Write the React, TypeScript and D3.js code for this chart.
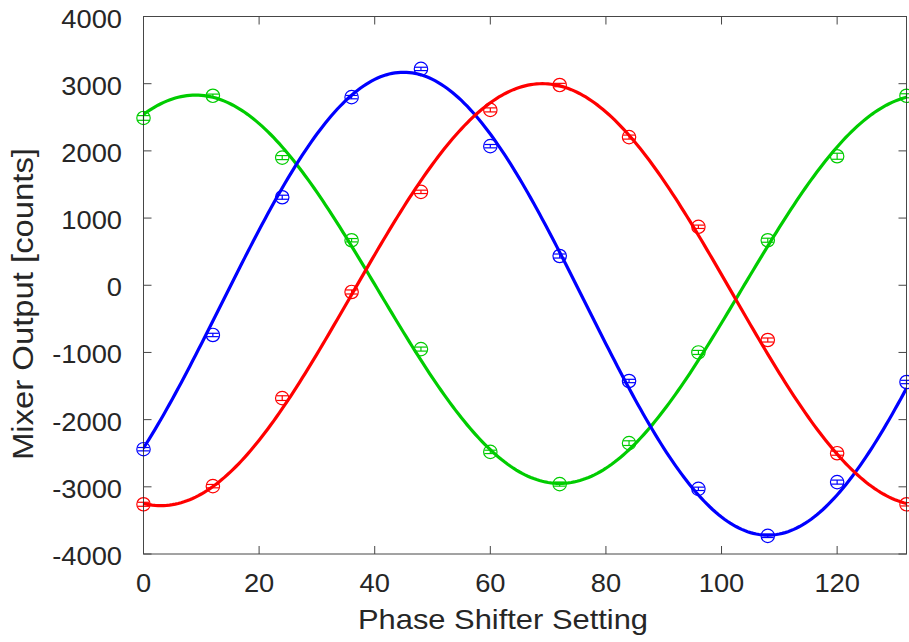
import React from "react";
import * as d3 from "d3";

const xs = [0, 12, 24, 36, 48, 60, 72, 84, 96, 108, 120, 132];
const greenY = [2490, 2820, 1900, 670, -950, -2480, -2960, -2350, -1000, 670, 1920, 2820];
const blueY = [-2440, -740, 1310, 2800, 3220, 2070, 435, -1425, -3030, -3730, -2930, -1440];
const redY = [-3260, -2990, -1680, -100, 1390, 2610, 2980, 2205, 870, -815, -2500, -3260];
const greenErr = [35, 25, 30, 25, 30, 25, 30, 35, 30, 30, 45, 30];
const blueErr = [25, 25, 30, 25, 25, 25, 30, 25, 25, 25, 30, 25];
const redErr = [30, 25, 35, 30, 25, 30, 25, 30, 25, 30, 30, 25];
// sinusoid fit parameters: [offset, amplitude, x of maximum, period]
const greenFit = [-60, 2890, 9, 126];
const blueFit = [-275, 3445, 45, 126];
const redFit = [-140, 3140, 69, 132];

const xTicks = [0, 20, 40, 60, 80, 100, 120];
const yTicks = [-4000, -3000, -2000, -1000, 0, 1000, 2000, 3000, 4000];

const W = 909, H = 642;
const L = 143.5, R = 906.5, T = 16.5, B = 554;

export default function App() {
  const x = d3.scaleLinear().domain([0, 132]).range([L, R]);
  const y = d3.scaleLinear().domain([-4000, 4000]).range([B, T]);
  const series = [
    { ys: greenY, err: greenErr, fit: greenFit, color: "#00cc00" },
    { ys: blueY, err: blueErr, fit: blueFit, color: "#0000ff" },
    { ys: redY, err: redErr, fit: redFit, color: "#ff0000" },
  ];
  const grid = d3.range(0, 132.01, 0.5);
  const line = d3.line<[number, number]>().x(d => x(d[0])).y(d => y(d[1]));
  const font = "'Liberation Sans', Arial, Helvetica, sans-serif";
  const axisColor = "#262626";
  const tl = 8;
  return (
    <svg width={W} height={H} style={{ position: "absolute", left: 0, top: 0, background: "#fff" }}>
      <defs>
        <clipPath id="clip"><rect x={L} y={T} width={R - L} height={B - T} /></clipPath>
      </defs>
      <rect x={0} y={0} width={W} height={H} fill="#fff" />
      <g clipPath="url(#clip)">
        {series.map((s, i) => {
          const [off, A, xm, P] = s.fit;
          const pts: [number, number][] = grid.map(g => [g, off + A * Math.cos((2 * Math.PI * (g - xm)) / P)]);
          return <path key={i} d={line(pts) || ""} fill="none" stroke={s.color} strokeWidth={3.2} />;
        })}
      </g>
      {series.map((s, i) => (
        <g key={"p" + i} stroke={s.color} fill="none" strokeWidth={1.2}>
          {xs.map((xv, j) => {
            const cx = x(xv), cy = y(s.ys[j]);
            const e1 = y(s.ys[j] + s.err[j]), e2 = y(s.ys[j] - s.err[j]);
            return (
              <g key={j}>
                <circle cx={cx} cy={cy} r={6.7} />
                <line x1={cx} x2={cx} y1={e1} y2={e2} />
                <line x1={cx - 6} x2={cx + 6} y1={e1} y2={e1} />
                <line x1={cx - 6} x2={cx + 6} y1={e2} y2={e2} />
              </g>
            );
          })}
        </g>
      ))}
      <g stroke={axisColor} strokeWidth={1} fill="none" opacity={0.85}>
        <rect x={L} y={T} width={R - L} height={B - T} />
        {xTicks.map(t => (
          <g key={"xt" + t}>
            <line x1={x(t)} x2={x(t)} y1={B} y2={B - tl} />
            <line x1={x(t)} x2={x(t)} y1={T} y2={T + tl} />
          </g>
        ))}
        {yTicks.map(t => (
          <g key={"yt" + t}>
            <line x1={L} x2={L + tl} y1={y(t)} y2={y(t)} />
            <line x1={R} x2={R - tl} y1={y(t)} y2={y(t)} />
          </g>
        ))}
      </g>
      <g fill={axisColor} fontFamily={font} fontSize={26}>
        {xTicks.map(t => (
          <text key={"xl" + t} transform={`translate(${x(t)}, 591.5) scale(1.05, 1)`} textAnchor="middle">{t}</text>
        ))}
        {yTicks.map(t => (
          <text key={"yl" + t} transform={`translate(122, ${y(t) + 11}) scale(1.05, 1)`} textAnchor="end">{t}</text>
        ))}
        <text x={503} y={629} textAnchor="middle" fontSize={28} textLength={290} lengthAdjust="spacingAndGlyphs">Phase Shifter Setting</text>
        <text transform={`translate(33, 304) rotate(-90)`} textAnchor="middle" fontSize={29} textLength={312} lengthAdjust="spacingAndGlyphs">Mixer Output [counts]</text>
      </g>
    </svg>
  );
}
